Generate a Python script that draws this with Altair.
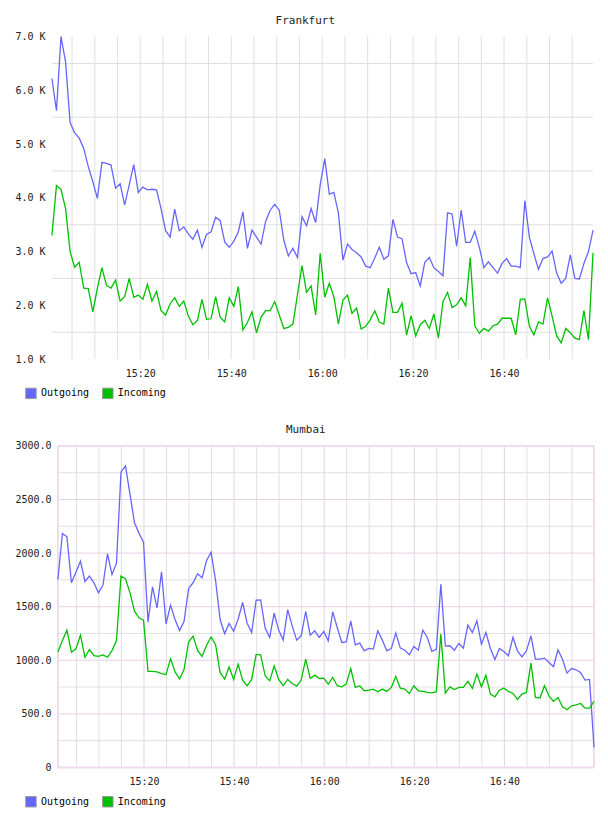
import altair as alt
import pandas as pd

# Bandwidth samples, one per minute (bytes/s)
frankfurt_outgoing = [
    6220, 5620, 7000, 6530, 5400, 5210, 5110, 4920, 4580, 4300,
    3990, 4660, 4640, 4610, 4180, 4260, 3870, 4240, 4620, 4100,
    4200, 4150, 4160, 4150, 3800, 3390, 3270, 3790, 3390, 3460,
    3330, 3230, 3400, 3080, 3320, 3370, 3640, 3580, 3180, 3080,
    3190, 3370, 3740, 3060, 3400, 3270, 3140, 3560, 3770, 3880,
    3770, 3210, 2920, 3060, 2890, 3650, 3480, 3800, 3540, 4240,
    4730, 4070, 4100, 3720, 2840, 3140, 3040, 2980, 2900, 2730,
    2700, 2880, 3080, 2860, 2920, 3600, 3270, 3240, 2790, 2590,
    2610, 2360, 2800, 2890, 2700, 2630, 2550, 3720, 3700, 3100,
    3770, 3170, 3170, 3380, 3080, 2700, 2810, 2700, 2600, 2780,
    2870, 2730, 2730, 2700, 3950, 3270, 2960, 2670, 2870, 2900,
    3010, 2600, 2410, 2500, 2940, 2500, 2490, 2780, 3000, 3400,
]
frankfurt_incoming = [
    3300, 4230, 4160, 3800, 3000, 2710, 2800, 2320, 2310, 1880,
    2320, 2700, 2370, 2320, 2470, 2080, 2160, 2500, 2150, 2190,
    2110, 2390, 2080, 2260, 1900, 1820, 2030, 2140, 1980, 2080,
    1800, 1640, 1720, 2110, 1740, 1750, 2160, 1780, 1690, 2140,
    1980, 2350, 1540, 1680, 1880, 1490, 1780, 1900, 1900, 2070,
    1820, 1570, 1590, 1650, 2200, 2740, 2240, 2360, 1820, 2970,
    2150, 2410, 2160, 1650, 2100, 2190, 1850, 1950, 1560, 1610,
    1730, 1900, 1690, 1650, 2320, 1870, 1870, 2040, 1450, 1810,
    1430, 1640, 1720, 1570, 1840, 1390, 2070, 2240, 1960, 2010,
    2140, 1990, 2890, 1620, 1480, 1570, 1520, 1620, 1650, 1760,
    1760, 1760, 1450, 2110, 2120, 1610, 1450, 1690, 1650, 2140,
    1800, 1430, 1300, 1570, 1490, 1390, 1360, 1900, 1360, 2980,
]
mumbai_outgoing = [
    1754, 2184, 2152, 1723, 1822, 1925, 1735, 1785, 1723, 1629,
    1701, 1994, 1800, 1906, 2757, 2813, 2548, 2283, 2184, 2103,
    1355, 1685, 1489, 1825, 1339, 1514, 1380, 1277, 1364, 1670,
    1723, 1807, 1769, 1931, 2009, 1744, 1380, 1249, 1343, 1271,
    1383, 1539, 1346, 1259, 1561, 1564, 1300, 1213, 1439, 1281,
    1188, 1471, 1321, 1188, 1228, 1455, 1234, 1275, 1213, 1268,
    1181, 1452, 1306, 1166, 1172, 1368, 1144, 1160, 1088, 1110,
    1104, 1275, 1188, 1088, 1110, 1253, 1113, 1094, 1051, 1129,
    1094, 1281, 1213, 1082, 1101, 1710, 1132, 1135, 1094, 1157,
    1113, 1328, 1259, 1368, 1150, 1259, 1110, 1007, 1110, 1082,
    1042, 1213, 1088, 1032, 1088, 1228, 1010, 1010, 1020, 979,
    939, 1097, 1010, 880, 923, 911, 886, 815, 821, 187,
]
mumbai_incoming = [
    1078, 1184, 1280, 1075, 1106, 1234, 1028, 1100, 1044, 1037,
    1050, 1028, 1090, 1184, 1785, 1760, 1629, 1458, 1396, 1374,
    897, 897, 891, 875, 866, 1015, 891, 825, 915, 1170,
    1226, 1092, 1035, 1140, 1217, 1146, 886, 824, 937, 821,
    964, 815, 762, 821, 1054, 1051, 855, 808, 948, 821,
    762, 821, 783, 759, 815, 1010, 830, 861, 830, 833,
    777, 839, 762, 752, 777, 923, 746, 762, 715, 721,
    731, 706, 731, 709, 746, 849, 740, 731, 690, 762,
    715, 709, 700, 696, 706, 1244, 693, 752, 727, 746,
    746, 802, 737, 871, 752, 861, 684, 659, 721, 740,
    709, 690, 634, 684, 700, 973, 653, 647, 762, 668,
    616, 653, 566, 538, 575, 584, 597, 553, 553, 616,
]

series_names = ["Outgoing", "Incoming"]
series_colors = ["#6666ff", "#00c000"]

frankfurt_first_sample = "2013-05-14 15:00:34"
mumbai_first_sample = "2013-05-14 15:00:54"
mumbai_axis_start = "2013-05-14 14:59:34"
sample_step = "60s"

time_labels = ["15:20", "15:40", "16:00", "16:20", "16:40"]
grid_first, grid_last = "15:05", "16:55"

frankfurt_y_labels = [1000, 2000, 3000, 4000, 5000, 6000, 7000]
frankfurt_y_grid = [1500, 2500, 3500, 4500, 5500, 6500]
mumbai_y_labels = [0, 500, 1000, 1500, 2000, 2500, 3000]
mumbai_y_minor = [250, 750, 1250, 1750, 2250, 2750]

FONT = "DejaVu Sans Mono"
GRID_GRAY = "#e0e0e0"
GRID_PINK = "#e6d0e6"
BORDER_PINK = "#eedcee"
TEXT = "#222222"


def as_datetime(ts):
    ts = pd.Timestamp(ts)
    return alt.DateTime(year=ts.year, month=ts.month, date=ts.day,
                        hours=ts.hour, minutes=ts.minute, seconds=ts.second)


def panel(title, first_sample, axis_start, outgoing, incoming, y_domain,
          y_labels, label_expr, label_pad, minor_y, major_y, framed,
          width, height, legend_y):
    times = pd.date_range(first_sample, periods=len(outgoing), freq=sample_step)
    data = pd.DataFrame({
        "time": list(times) * 2,
        "value": list(outgoing) + list(incoming),
        "series": ["Outgoing"] * len(outgoing) + ["Incoming"] * len(incoming),
    })
    data["key"] = data["series"]
    day = times[0].strftime("%Y-%m-%d")

    x_scale = alt.Scale(domain=[as_datetime(axis_start), as_datetime(times[-1])], nice=False)
    x_axis = alt.Axis(values=[as_datetime(f"{day} {t}") for t in time_labels],
                      format="%H:%M", ticks=False, domain=False, grid=False,
                      labelFont=FONT, labelFontSize=10, labelColor=TEXT,
                      labelPadding=9, labelFlush=False, labelOverlap=False)
    x_enc = alt.X("time:T", title=None, scale=x_scale, axis=x_axis)
    y_axis = alt.Axis(values=y_labels, labelExpr=label_expr, ticks=False,
                      domain=False, grid=False, labelFont=FONT, labelFontSize=10,
                      labelColor=TEXT, labelPadding=label_pad, labelFlush=False,
                      labelOverlap=False)
    y_enc = alt.Y("value:Q", title=None, axis=y_axis,
                  scale=alt.Scale(domain=y_domain, nice=False, zero=False))

    five_min = pd.date_range(f"{day} {grid_first}", f"{day} {grid_last}", freq="5min")
    labelled = [t for t in five_min if t.strftime("%H:%M") in time_labels]
    plain = [t for t in five_min if t.strftime("%H:%M") not in time_labels]

    def vrules(ts, color, w=1):
        return alt.Chart(pd.DataFrame({"time": ts})).mark_rule(
            color=color, strokeWidth=w).encode(x=x_enc)

    def hrules(vals, color, w=1):
        df = pd.DataFrame({"value": vals, "t0": times[0], "t1": times[-1]})
        return alt.Chart(df).mark_rule(color=color, strokeWidth=w).encode(
            y=y_enc,
            x=alt.X("t0:T", title=None, scale=x_scale, axis=x_axis),
            x2="t1:T",
        )

    if framed:
        layers = [
            vrules(plain, GRID_GRAY),
            hrules(minor_y, GRID_GRAY),
            vrules(labelled, GRID_PINK),
            hrules(major_y[1:-1], GRID_PINK),
            vrules([times[0], times[-1]], BORDER_PINK, 2),
            hrules([major_y[0], major_y[-1]], BORDER_PINK, 2),
        ]
    else:
        layers = [vrules(list(five_min), GRID_GRAY), hrules(minor_y, GRID_GRAY)]

    lines = alt.Chart(data).mark_line(strokeWidth=1.3).encode(
        x=x_enc, y=y_enc,
        stroke=alt.Stroke("series:N", legend=None,
                          scale=alt.Scale(domain=series_names, range=series_colors)),
    )
    key = alt.Chart(data).mark_square(opacity=0).encode(
        x=x_enc, y=y_enc,
        fill=alt.Fill(
            "key:N", title=None,
            scale=alt.Scale(domain=series_names, range=series_colors),
            legend=alt.Legend(orient="none", legendX=-27, legendY=legend_y,
                              direction="horizontal", symbolType="square",
                              symbolSize=110, symbolStrokeColor="#999999",
                              symbolStrokeWidth=1, symbolOpacity=1,
                              labelFont=FONT, labelFontSize=10, labelColor="#000000",
                              labelOffset=4, columnPadding=10, padding=0),
        ),
    )
    return alt.layer(*layers, lines, key).properties(
        width=width, height=height,
        title=alt.TitleParams(title, font=FONT, fontSize=11, fontWeight="normal",
                              color=TEXT, anchor="middle", frame="bounds", offset=6),
    ).resolve_scale(fill="independent", stroke="independent")


frankfurt = panel(
    "Frankfurt", frankfurt_first_sample, frankfurt_first_sample,
    frankfurt_outgoing, frankfurt_incoming, [1000, 7000], frankfurt_y_labels,
    "format(datum.value / 1000, '.1f') + ' K'", 7,
    frankfurt_y_grid, [], False, 542, 323, 351,
)
mumbai = panel(
    "Mumbai", mumbai_first_sample, mumbai_axis_start,
    mumbai_outgoing, mumbai_incoming, [0, 3000], mumbai_y_labels,
    "datum.value == 0 ? '0' : format(datum.value, '.1f')", 1,
    mumbai_y_minor, mumbai_y_labels, True, 543, 322, 350,
)

chart = alt.concat(frankfurt, mumbai, columns=1, spacing=21).properties(
    padding={"left": 14, "top": 13, "right": 10, "bottom": 5},
    background="white",
).configure_view(stroke="transparent")

chart.save("out.html", embed_options={"renderer": "svg", "actions": False})
